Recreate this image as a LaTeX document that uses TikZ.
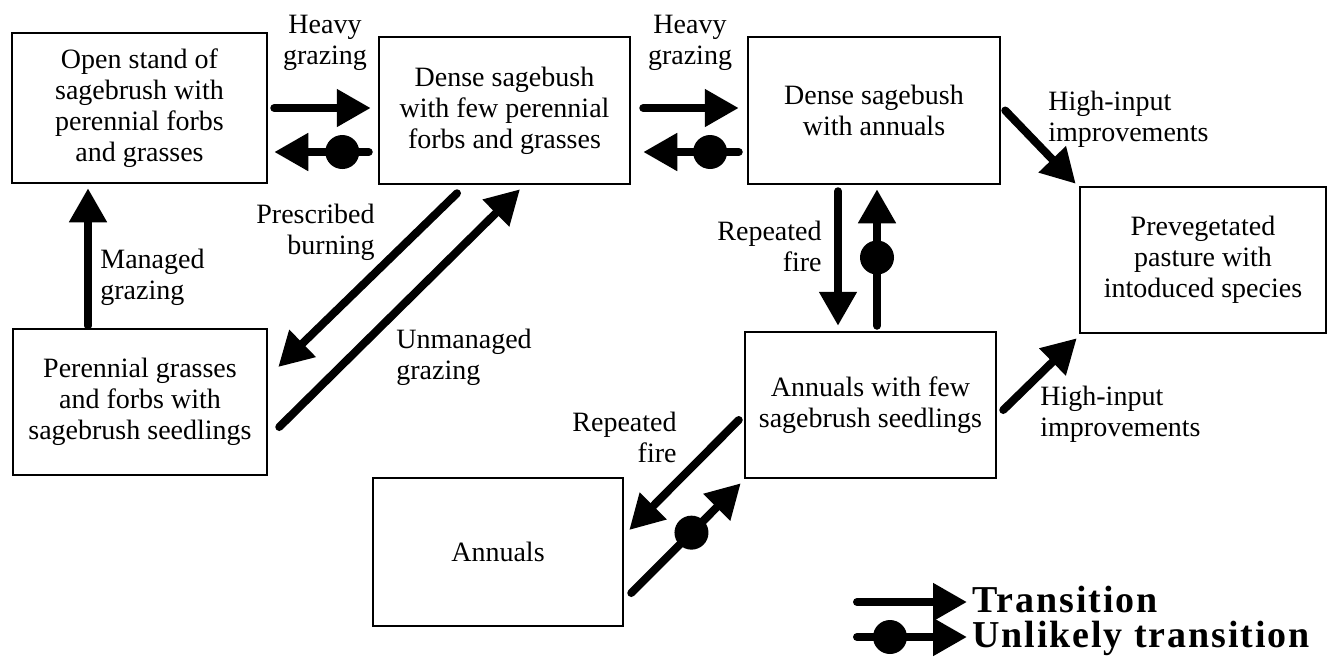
\documentclass[tikz,border=0pt]{standalone}
\usepackage{fontspec}
\setmainfont{Liberation Serif}
\newfontfamily\legfont[LetterSpace=5]{Liberation Serif}
\usetikzlibrary{arrows.meta,calc}
\begin{document}
\begin{tikzpicture}[x=0.5pt,y=-0.5pt,
  box/.style={draw, line width=1.25pt, align=center, inner sep=0pt, font=\fontsize{14}{15.5}\selectfont},
  lab/.style={inner sep=0pt, font=\fontsize{14}{15.5}\selectfont},
  arr/.style={line width=4pt, line cap=round, -{Triangle[length=17pt,width=18pt]}},
  dot/.style={circle, fill, inner sep=0pt, minimum size=17pt},
  leg/.style={inner sep=0pt, anchor=base west, font=\legfont\fontsize{19}{21}\selectfont\bfseries}]
\useasboundingbox (0,0) rectangle (1328,661);

% states
\node[box, minimum width=127.5pt, minimum height=75pt] (A) at (139.5,108) {Open stand of\\sagebrush with\\perennial forbs\\and grasses};
\node[box, minimum width=125.5pt, minimum height=73.5pt] (B) at (504.5,110.5) {Dense sagebush\\with few perennial\\forbs and grasses};
\node[box, minimum width=126pt, minimum height=73.5pt] (C) at (874,110.5) {Dense sagebush\\with annuals};
\node[box, minimum width=123pt, minimum height=73pt] (D) at (1203,260) {Prevegetated\\pasture with\\intoduced species};
\node[box, minimum width=127pt, minimum height=73pt] (E) at (140,402) {Perennial grasses\\and forbs with\\sagebrush seedlings};
\node[box, minimum width=125.5pt, minimum height=73pt] (F) at (870.5,405) {Annuals with few\\sagebrush seedlings};
\node[box, minimum width=125pt, minimum height=74pt] (G) at (498,552) {Annuals};

% transitions
\draw[arr] ($(A.east)+(6,0)$) -- ($(A.east -| B.west)+(-7,0)$);
\draw[arr] ($(B.west)+(-9,41.5)$) -- node[dot,pos=.28] (d1) {} ($(A.east)+(6,44)$);
\draw[arr] ($(B.east)+(12,-2.5)$) -- ($(C.west)+(-8,-2.5)$);
\draw[arr] ($(C.west)+(-8,41.5)$) -- node[dot,pos=.3] (d2) {} ($(B.east)+(12,41.5)$);
\draw[arr] ($(C.east)+(4,0)$) -- ($(D.north west)+(-3,-2)$);
\draw[arr] ($(C.south)+(-36,6)$) -- ($(F.north)+(-32.5,-5)$);
\draw[arr] ($(F.north)+(6.5,-5)$) -- node[dot,pos=.5] (d3) {} ($(C.south)+(3,4)$);
\draw[arr] ($(E.north)+(-52,-2)$) -- ($(A.south)+(-51.5,4)$);
\draw[arr] ($(B.south)+(-47.5,8)$) -- ($(E.east)+(10,-35)$);
\draw[arr] ($(E.east)+(11,25)$) -- ($(B.south)+(15.5,4)$);
\draw[arr] ($(F.west)+(-5,15)$) -- ($(G.east)+(5,-22)$);
\draw[arr] ($(G.east)+(7,41)$) -- node[dot,pos=.55] (d4) {} ($(F.south west)+(-3,4)$);
\draw[arr] ($(F.east)+(6,5)$) -- ($(D.south west)+(-2,4)$);

% labels
\node[lab, align=center] (l1) at (325,43) {Heavy\\grazing};
\node[lab, align=center] (l2) at (690,43) {Heavy\\grazing};
\node[lab, align=left, anchor=west] (l3) at (1048,119) {High-input\\improvements};
\node[lab, align=right, anchor=east] (l4) at (822,246) {Repeated\\fire};
\node[lab, align=left, anchor=west] (l5) at (100,277) {Managed\\grazing};
\node[lab, align=right, anchor=east] (l6) at (375,232) {Prescribed\\burning};
\node[lab, align=left, anchor=west] (l7) at (396,357) {Unmanaged\\grazing};
\node[lab, align=right, anchor=east] (l8) at (677,437) {Repeated\\fire};
\node[lab, align=left, anchor=west] (l9) at (1040,414) {High-input\\improvements};

% legend
\coordinate (t1s) at (857,602);
\coordinate (t1e) at (967,602);
\coordinate (t2s) at (857,637);
\coordinate (t2e) at (967,637);
\draw[arr] (t1s) -- (t1e);
\draw[arr] (t2s) -- node[dot,pos=.3] (d5) {} (t2e);
\node[leg] (k1) at (972,612) {Transition};
\node[leg] (k2) at (972,647) {Unlikely transition};
\end{tikzpicture}
\end{document}
